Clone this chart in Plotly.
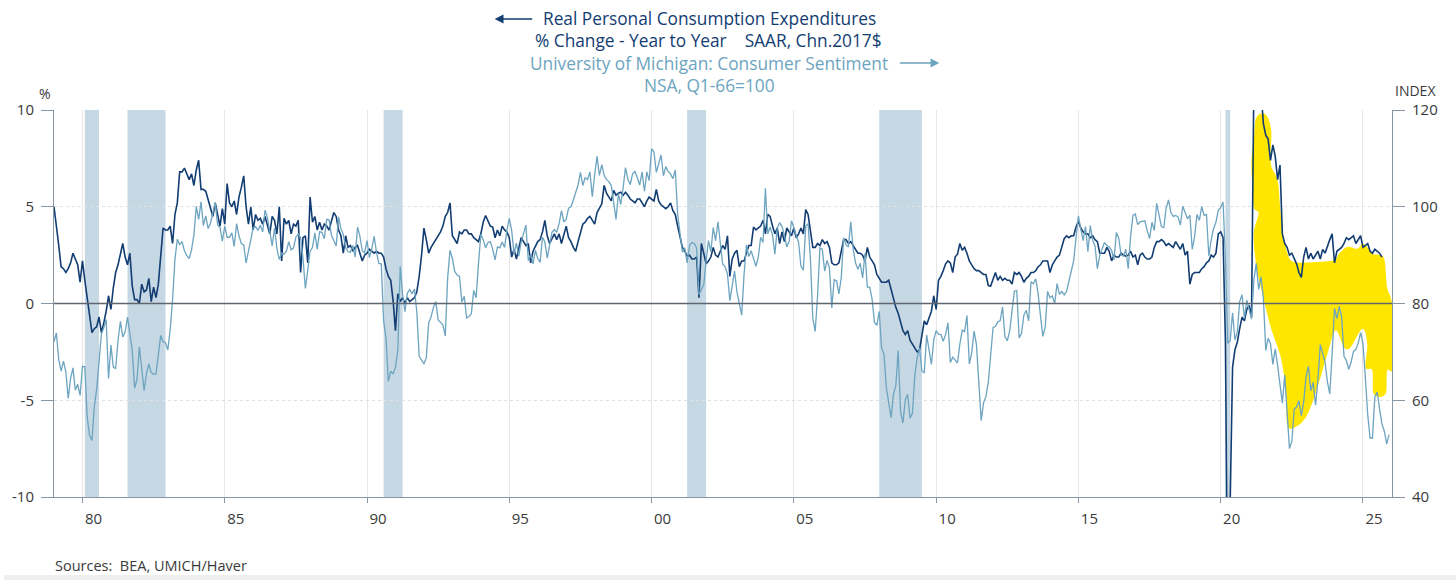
import plotly.graph_objects as go

# ---------------- data (monthly, starting Jan 1979) ----------------
start_year = 1979

# Real PCE, % change year to year (left axis)
pce_yoy = [
    5.0, 4.1, 3.0, 1.9, 1.8, 1.6, 1.8, 2.1, 2.6, 2.3, 2.0, 1.1,          # 1979
    2.2, 1.2, 0.2, -0.7, -1.5, -1.3, -1.2, -0.7, -1.5, -1.0, -0.4, 0.4,  # 1980
    -0.3, 0.8, 1.6, 2.0, 2.6, 3.1, 2.4, 2.0, 2.6, 0.9, 0.2, 0.2,         # 1981
    0.0, 1.0, 0.6, 0.7, 1.3, 0.1, 0.85, 0.3, 1.0, 2.5, 3.9, 3.8,         # 1982
    3.8, 4.0, 3.1, 4.6, 5.2, 6.8, 6.8, 7.0, 6.7, 6.4, 6.7, 6.1,          # 1983
    6.9, 7.4, 5.9, 5.9, 5.8, 5.4, 4.9, 4.5, 5.2, 4.6, 4.0, 4.9,          # 1984
    4.1, 6.2, 5.2, 5.0, 5.3, 4.6, 5.5, 6.0, 6.6, 5.0, 4.1, 5.0,          # 1985
    3.8, 4.6, 4.3, 4.4, 4.1, 4.5, 4.1, 3.6, 4.5, 4.3, 3.6, 5.0,          # 1986
    2.2, 4.4, 4.1, 4.3, 3.6, 4.1, 4.0, 4.3, 1.6, 3.4, 3.5, 2.1,          # 1987
    5.5, 4.2, 4.5, 3.8, 4.2, 3.8, 4.1, 4.0, 3.8, 4.3, 4.7, 4.5,          # 1988
    3.8, 3.5, 2.6, 3.5, 2.9, 3.0, 2.7, 2.9, 3.0, 2.6, 2.2, 2.5,          # 1989
    2.6, 2.8, 2.7, 2.6, 2.7, 2.6, 2.6, 2.4, 1.8, 1.4, 1.2, 0.15,         # 1990
    -1.4, 0.5, 0.1, 0.3, 0.0, 0.3, 0.1, 0.2, 0.3, 0.6, 1.4, 2.5,         # 1991
    3.9, 3.3, 2.6, 2.9, 3.1, 3.3, 3.5, 3.7, 4.0, 4.5, 4.7, 5.2,          # 1992
    3.5, 3.3, 3.1, 3.7, 3.6, 3.8, 3.8, 3.6, 3.6, 3.4, 3.3, 3.2,          # 1993
    3.6, 4.2, 4.55, 4.3, 4.0, 3.95, 3.4, 3.8, 3.5, 4.0, 3.8, 3.7,        # 1994
    3.4, 2.4, 2.8, 2.3, 2.9, 3.4, 3.2, 3.0, 3.1, 2.1, 2.7, 3.0,          # 1995
    3.2, 3.3, 3.7, 4.3, 3.5, 3.1, 3.4, 3.6, 3.3, 3.6, 3.1, 3.5,          # 1996
    4.0, 3.4, 3.2, 2.9, 2.7, 3.2, 3.6, 4.1, 4.2, 4.4, 4.5, 4.3,          # 1997
    4.1, 4.7, 4.9, 5.15, 6.1, 5.7, 5.5, 5.3, 5.85, 5.6, 5.7, 5.75,       # 1998
    5.6, 5.75, 5.6, 5.4, 5.3, 5.2, 5.4, 5.4, 5.2, 5.0, 5.3, 5.5,         # 1999
    5.4, 5.3, 5.9, 5.3, 5.1, 5.0, 4.9, 5.0, 5.2, 4.8, 4.6, 4.0,          # 2000
    3.5, 2.9, 2.7, 2.45, 2.5, 2.3, 2.3, 2.4, 0.3, 3.1, 2.6, 2.05,        # 2001
    2.2, 2.4, 2.9, 2.5, 2.4, 2.7, 3.0, 2.8, 3.5, 1.4, 2.3, 2.6,          # 2002
    2.75, 1.9, 2.2, 2.2, 2.6, 3.0, 3.0, 3.95, 3.8, 3.9, 4.0, 4.3,        # 2003
    3.6, 4.6, 4.5, 4.0, 3.6, 3.9, 3.1, 3.7, 3.2, 3.9, 3.7, 3.5,          # 2004
    3.9, 3.4, 3.6, 3.9, 3.6, 4.85, 4.6, 3.8, 2.9, 2.9, 3.1, 3.0,         # 2005
    3.3, 3.1, 3.2, 2.9, 2.1, 2.0, 2.0, 2.1, 2.75, 3.3, 3.3, 3.1,         # 2006
    3.2, 3.0, 2.75, 2.6, 2.6, 2.5, 2.2, 2.9, 2.4, 2.2, 2.0, 1.5,         # 2007
    1.3, 1.1, 1.1, 1.1, 1.2, 0.7, 0.15, -0.2, -0.5, -0.9, -1.4, -1.6,    # 2008
    -1.4, -1.9, -2.1, -2.3, -2.5, -2.4, -1.6, -0.9, -1.1, -0.8, -0.4, 0.4,  # 2009
    -0.3, 1.2, 1.4, 1.7, 2.05, 2.2, 2.1, 1.6, 2.4, 2.55, 3.1, 2.75,      # 2010
    2.9, 2.6, 2.2, 2.0, 1.8, 1.7, 1.7, 1.6, 1.5, 1.5, 0.93, 0.9,         # 2011
    1.2, 1.6, 1.2, 1.4, 1.2, 1.3, 1.2, 1.2, 1.0, 1.6, 1.5, 1.6,          # 2012
    1.4, 1.1, 1.3, 1.4, 1.6, 1.6, 1.7, 1.9, 2.0, 2.2, 2.2, 2.2,          # 2013
    1.6, 2.0, 2.2, 2.4, 2.5, 2.9, 3.35, 3.5, 3.4, 3.5, 3.5, 3.95,        # 2014
    4.25, 3.9, 3.7, 3.6, 3.6, 3.4, 3.5, 3.3, 3.2, 2.6, 2.6, 2.6,         # 2015
    2.9, 2.7, 2.2, 2.5, 2.4, 2.4, 2.6, 2.5, 2.45, 2.5, 2.7, 2.4,         # 2016
    2.5, 2.0, 2.5, 2.6, 2.4, 2.3, 2.3, 2.4, 2.9, 3.2, 3.2, 3.3,          # 2017
    3.2, 3.0, 3.1, 3.0, 2.9, 3.2, 3.0, 2.8, 3.1, 2.5, 2.7, 1.0,          # 2018
    1.5, 1.6, 1.6, 1.6, 1.8, 1.9, 2.1, 2.2, 2.5, 2.4, 2.6, 3.6,          # 2019
    3.7, 3.4, -2.0, -17.5, -10.3, -3.3, -2.4, -2.0, -1.3, -0.7, -0.9, -0.3,  # 2020
    -0.1, -0.7, 11.5, 27.0, 15.0, 11.0, 9.3, 8.7, 8.5, 7.4, 8.2, 7.6,    # 2021
    6.4, 7.15, 3.6, 3.1, 2.9, 2.5, 2.6, 2.3, 2.05, 1.6, 1.35, 2.4,       # 2022
    2.9, 2.3, 2.6, 2.3, 2.5, 2.7, 2.3, 2.8, 2.6, 3.0, 3.3, 3.6,          # 2023
    2.1, 2.7, 2.8, 2.9, 3.1, 3.4, 3.3, 3.4, 3.5, 3.1, 3.3, 3.5,          # 2024
    2.9, 3.0, 3.1, 2.7, 2.6, 2.8, 2.7, 2.6, 2.4,                         # 2025
]

# University of Michigan Consumer Sentiment, NSA, Q1-66=100 (right axis)
sentiment = [
    72.1, 73.9, 68.4, 66.0, 68.1, 65.8, 60.4, 64.5, 66.7, 62.1, 63.3, 61.0,        # 1979
    67.0, 66.9, 56.5, 52.7, 51.7, 58.7, 62.3, 67.3, 73.7, 75.0, 76.7, 64.5,        # 1980
    71.4, 66.9, 66.5, 72.4, 76.3, 73.1, 74.1, 77.2, 73.1, 70.3, 62.5, 64.3,        # 1981
    71.0, 66.5, 62.0, 65.5, 67.5, 65.7, 65.4, 65.4, 69.3, 73.4, 72.1, 71.9,        # 1982
    70.4, 74.6, 80.8, 89.1, 93.3, 92.2, 92.8, 90.9, 89.9, 89.3, 91.1, 94.2,        # 1983
    100.1, 97.4, 101.0, 96.1, 98.1, 95.5, 96.6, 99.1, 100.9, 96.3, 95.7, 92.9,     # 1984
    96.0, 93.7, 93.7, 94.6, 91.8, 96.5, 94.0, 92.4, 92.1, 88.4, 90.9, 93.9,        # 1985
    95.6, 95.9, 95.1, 96.2, 94.8, 99.3, 97.7, 94.9, 91.9, 95.6, 91.4, 89.1,        # 1986
    90.4, 90.2, 90.8, 92.8, 91.1, 91.5, 93.7, 94.4, 93.6, 89.3, 83.1, 86.8,        # 1987
    90.8, 91.6, 94.6, 91.2, 94.8, 94.7, 93.4, 97.4, 97.3, 94.1, 93.0, 91.9,        # 1988
    97.9, 95.4, 94.3, 91.5, 90.7, 90.6, 92.0, 89.6, 95.8, 93.9, 90.9, 90.5,        # 1989
    93.0, 89.5, 91.3, 93.9, 90.6, 88.3, 88.2, 76.4, 72.8, 63.9, 66.0, 65.5,        # 1990
    66.8, 70.4, 87.7, 81.8, 78.3, 82.1, 82.9, 82.0, 83.0, 78.3, 69.1, 68.2,        # 1991
    67.5, 68.8, 76.0, 77.2, 79.2, 80.4, 76.6, 76.1, 75.6, 73.3, 85.3, 91.0,        # 1992
    89.3, 86.6, 85.9, 85.6, 80.3, 81.5, 77.0, 77.3, 77.9, 82.7, 81.2, 88.2,        # 1993
    94.3, 93.2, 91.5, 92.6, 92.8, 91.2, 89.0, 91.7, 91.5, 92.7, 91.6, 95.1,        # 1994
    97.6, 95.1, 90.3, 92.5, 89.8, 92.7, 94.4, 96.2, 88.9, 90.2, 88.2, 91.0,        # 1995
    89.3, 88.5, 93.7, 92.7, 89.4, 92.4, 94.7, 95.3, 94.7, 96.5, 99.2, 96.9,        # 1996
    97.4, 99.7, 100.0, 101.4, 103.2, 104.5, 107.1, 104.4, 106.0, 105.6, 107.2, 102.1,  # 1997
    106.6, 110.4, 106.5, 108.7, 106.5, 105.6, 105.2, 104.4, 100.9, 97.4, 102.7, 100.5, # 1998
    103.9, 108.1, 105.7, 104.6, 106.8, 107.3, 106.0, 104.5, 107.2, 103.2, 107.2, 105.4, # 1999
    112.0, 111.3, 107.1, 109.2, 110.7, 106.4, 108.3, 107.3, 106.8, 105.8, 107.6, 98.4,  # 2000
    94.7, 90.6, 91.5, 88.4, 92.0, 92.6, 92.4, 91.5, 81.8, 82.7, 83.9, 88.8,        # 2001
    93.0, 90.7, 95.7, 93.0, 96.9, 92.4, 88.1, 87.6, 86.1, 80.6, 84.2, 86.7,        # 2002
    82.4, 79.9, 77.6, 86.0, 92.1, 89.7, 90.9, 89.3, 87.7, 89.6, 93.7, 92.6,        # 2003
    103.8, 94.4, 95.8, 94.2, 90.2, 95.6, 96.7, 95.9, 94.2, 91.7, 92.8, 97.1,       # 2004
    95.5, 94.1, 92.6, 87.7, 86.9, 96.0, 96.5, 89.1, 76.9, 74.2, 81.6, 91.5,        # 2005
    91.2, 86.7, 88.9, 87.4, 79.1, 84.9, 84.7, 82.0, 85.4, 93.6, 92.1, 91.7,        # 2006
    96.9, 91.3, 88.4, 87.1, 88.3, 85.3, 90.4, 83.4, 83.4, 80.9, 76.1, 75.5,        # 2007
    78.4, 70.8, 69.5, 62.6, 59.8, 56.4, 61.2, 63.0, 70.3, 57.6, 55.3, 60.1,        # 2008
    61.2, 56.3, 57.3, 65.1, 68.7, 70.8, 66.0, 65.7, 73.5, 70.6, 67.4, 72.5,        # 2009
    74.4, 73.6, 73.6, 72.2, 73.6, 76.0, 67.8, 68.9, 68.2, 67.7, 71.6, 74.5,        # 2010
    74.2, 77.5, 67.5, 69.8, 74.3, 71.5, 63.7, 55.8, 59.5, 60.8, 63.7, 69.9,        # 2011
    75.0, 75.3, 76.2, 76.4, 79.3, 73.2, 72.3, 74.3, 78.3, 82.6, 82.7, 72.9,        # 2012
    73.8, 77.6, 78.6, 76.4, 84.5, 84.1, 85.1, 82.1, 77.5, 73.2, 75.1, 82.5,        # 2013
    81.2, 81.6, 80.0, 84.1, 81.9, 82.5, 81.8, 82.5, 84.6, 86.9, 88.8, 93.6,        # 2014
    98.1, 95.4, 93.0, 95.9, 90.7, 96.1, 93.1, 91.9, 87.2, 90.0, 91.3, 92.6,        # 2015
    92.0, 91.7, 91.0, 89.0, 94.7, 93.5, 90.0, 89.8, 91.2, 87.2, 93.8, 98.2,        # 2016
    98.5, 96.3, 96.9, 97.0, 97.1, 95.1, 93.4, 96.8, 95.1, 100.7, 98.5, 95.9,       # 2017
    95.7, 99.7, 101.4, 98.8, 98.0, 98.2, 97.9, 96.2, 100.1, 98.6, 97.5, 98.3,      # 2018
    91.2, 93.8, 98.4, 97.2, 100.0, 98.2, 98.4, 89.8, 93.2, 95.5, 96.8, 99.3,       # 2019
    99.8, 101.0, 89.1, 71.8, 72.3, 78.1, 72.5, 74.1, 80.4, 81.8, 76.9, 80.7,       # 2020
    79.0, 76.8, 84.9, 88.3, 82.9, 85.5, 81.2, 70.3, 72.8, 71.7, 67.4, 70.6,        # 2021
    67.2, 62.8, 59.4, 65.2, 58.4, 50.0, 51.5, 58.2, 58.6, 59.9, 56.8, 59.7,        # 2022
    64.9, 67.0, 62.0, 63.7, 59.0, 64.2, 71.5, 69.4, 67.9, 63.8, 61.3, 69.7,        # 2023
    79.0, 76.9, 79.4, 77.2, 69.1, 68.2, 66.4, 67.9, 70.1, 70.5, 71.8, 74.0,        # 2024
    71.7, 64.7, 57.0, 52.2, 52.2, 60.7, 61.7, 58.2, 55.1, 53.6, 51.0, 52.9,        # 2025
]

# NBER recessions (start, end) as decimal years (month after peak .. month after trough)
recession_start = [1980 + 1/12, 1981 + 7/12, 1990 + 7/12, 2001 + 3/12, 2008.0, 2020 + 2/12]
recession_end = [1980 + 7/12, 1982 + 11/12, 1991 + 3/12, 2001 + 11/12, 2009 + 6/12, 2020 + 4/12]

x_tickvals = [1980, 1985, 1990, 1995, 2000, 2005, 2010, 2015, 2020, 2025]
x_ticktext = ["80", "85", "90", "95", "00", "05", "10", "15", "20", "25"]
left_ticks = [-10, -5, 0, 5, 10]
right_ticks = [40, 60, 80, 100, 120]

# hand-drawn yellow highlight outline (decimal year, left-axis value)
hl_x = [2021.24, 2021.47, 2021.67, 2021.78, 2021.76, 2022.00, 2022.09, 2022.17, 2022.35,
        2022.58, 2023.28, 2023.98, 2024.16, 2024.45, 2024.80, 2024.98, 2025.15, 2025.33,
        2025.62, 2025.76, 2025.85, 2025.97, 2026.06, 2026.06, 2025.85, 2025.79, 2025.38,
        2025.33, 2025.09, 2025.15, 2024.98, 2024.57, 2024.33, 2024.04, 2023.75, 2023.40,
        2023.05, 2022.70, 2022.35, 2022.29, 2022.11, 2021.76, 2021.41, 2021.24, 2021.16,
        2021.33, 2021.16, 2021.10, 2021.08, 2021.18]
hl_y = [9.57, 9.83, 9.57, 8.79, 7.24, 6.37, 4.99, 3.78, 2.58,
        2.14, 2.14, 2.23, 2.58, 2.92, 2.83, 3.09, 2.92, 2.58,
        2.49, 2.23, 0.84, 0.33, -0.53, -3.30, -3.47, -4.68, -4.68,
        -3.47, -3.30, -2.09, -1.31, -2.26, -2.26, -1.40, -2.61, -4.34,
        -5.72, -6.32, -6.32, -4.51, -2.78, -1.23, 0.84, 2.06, 3.61,
        4.65, 4.99, 6.37, 7.41, 8.79]

# ---------------- styling ----------------
NAVY = "#123d72"
LIGHT = "#6da4c0"
SHADE = "#c6d8e3"
YELLOW = "#ffe600"
AXIS = "#8795a5"
TXT = "#3a3a3a"
FONT = "Open Sans"

W, H = 1456, 580
L, R, T, B = 50, 64, 110, 83
PW, PH = W - L - R, H - T - B


def px_x(px):
    return (px - L) / PW


def px_y(py):
    return (H - B - py) / PH


x_pce = [start_year + i / 12 for i in range(len(pce_yoy))]
x_sent = [start_year + i / 12 for i in range(len(sentiment))]

fig = go.Figure()
fig.add_trace(go.Scatter(x=x_sent, y=sentiment, yaxis="y2", mode="lines",
                         line=dict(color=LIGHT, width=1.3), hoverinfo="skip", showlegend=False))
fig.add_trace(go.Scatter(x=x_pce, y=pce_yoy, mode="lines",
                         line=dict(color=NAVY, width=1.6), hoverinfo="skip", showlegend=False))

shapes = []
for s, e in zip(recession_start, recession_end):
    shapes.append(dict(type="rect", xref="x", yref="paper", x0=s, x1=e, y0=0, y1=1,
                       fillcolor=SHADE, line=dict(width=0), layer="below"))


# smooth closed path through the highlight outline (Catmull-Rom -> Bezier)
def smooth_path(xs, ys):
    n = len(xs)
    p = list(zip(xs, ys))
    d = "M {:.4f},{:.4f}".format(*p[0])
    for i in range(n):
        p0, p1, p2, p3 = p[i - 1], p[i], p[(i + 1) % n], p[(i + 2) % n]
        c1 = (p1[0] + (p2[0] - p0[0]) / 6, p1[1] + (p2[1] - p0[1]) / 6)
        c2 = (p2[0] - (p3[0] - p1[0]) / 6, p2[1] - (p3[1] - p1[1]) / 6)
        d += " C {:.4f},{:.4f} {:.4f},{:.4f} {:.4f},{:.4f}".format(*c1, *c2, *p2)
    return d + " Z"


shapes.append(dict(type="path", xref="x", yref="y", path=smooth_path(hl_x, hl_y),
                   fillcolor=YELLOW, line=dict(width=0), layer="between"))
shapes.append(dict(type="line", xref="paper", yref="y", x0=0, x1=1, y0=0, y1=0,
                   line=dict(color="#5f6670", width=1.3), layer="above"))
# light band at the very bottom of the image
shapes.append(dict(type="rect", xref="paper", yref="paper", x0=px_x(0), x1=px_x(W),
                   y0=px_y(H), y1=px_y(575), fillcolor="#efefef", line=dict(width=0), layer="below"))

TS = 17.3
annotations = [
    dict(text="Real Personal Consumption Expenditures", x=px_x(707), y=px_y(19),
         font=dict(color=NAVY, size=TS, family=FONT)),
    dict(text="% Change - Year to Year\u00a0\u00a0\u00a0\u00a0SAAR, Chn.2017$", x=px_x(706), y=px_y(40),
         font=dict(color=NAVY, size=TS, family=FONT)),
    dict(text="University of Michigan: Consumer Sentiment", x=px_x(706.5), y=px_y(63),
         font=dict(color=LIGHT, size=TS, family=FONT)),
    dict(text="NSA, Q1-66=100", x=px_x(707), y=px_y(85),
         font=dict(color=LIGHT, size=TS, family=FONT)),
    dict(text="%", x=px_x(41), y=px_y(93), font=dict(color=TXT, size=14, family=FONT)),
    dict(text="INDEX", x=px_x(1416), y=px_y(90), font=dict(color=TXT, size=14, family=FONT)),
    dict(text="Sources:\u00a0\u00a0BEA, UMICH/Haver", x=px_x(50), y=px_y(565), xanchor="left",
         font=dict(color=TXT, size=14.5, family=FONT)),
]
for a in annotations:
    a.update(xref="paper", yref="paper", showarrow=False, borderpad=0)
    a.setdefault("xanchor", "center")
    a["yanchor"] = "middle"

# arrows
annotations.append(dict(xref="paper", yref="paper", x=px_x(492), y=px_y(19), ax=39, ay=0,
                        text="", showarrow=True, arrowhead=2, arrowsize=1.1, arrowwidth=1.6,
                        arrowcolor=NAVY))
annotations.append(dict(xref="paper", yref="paper", x=px_x(938), y=px_y(63), ax=-41, ay=0,
                        text="", showarrow=True, arrowhead=2, arrowsize=1.1, arrowwidth=1.6,
                        arrowcolor=LIGHT))

tickfont = dict(color=TXT, size=15, family=FONT)

fig.update_layout(
    width=W, height=H, autosize=False,
    margin=dict(l=L, r=R, t=T, b=B, pad=0),
    paper_bgcolor="white", plot_bgcolor="white",
    font=dict(family=FONT, color=TXT),
    shapes=shapes, annotations=annotations, showlegend=False,
    xaxis=dict(range=[1979.0, 2026.02], tickvals=x_tickvals, ticktext=x_ticktext,
               ticks="outside", ticklen=5, tickcolor=AXIS, showline=True, linecolor=AXIS,
               linewidth=1, showgrid=True, gridcolor="#e6e6e6", gridwidth=1, zeroline=False,
               tickfont=tickfont, ticklabelshift=11, ticklabelstandoff=3, fixedrange=True),
    yaxis=dict(range=[-10, 10], tickvals=left_ticks, ticktext=[str(v) for v in left_ticks],
               ticks="outside", ticklen=12, tickcolor=AXIS, showline=True, linecolor=AXIS,
               linewidth=1, showgrid=True, gridcolor="#e0e0e0", griddash="dot", zeroline=False,
               tickfont=tickfont, ticklabelstandoff=4, fixedrange=True),
    yaxis2=dict(range=[40, 120], tickvals=right_ticks, ticktext=[str(v) for v in right_ticks],
                overlaying="y", side="right", ticks="outside", ticklen=12, tickcolor=AXIS,
                showline=True, linecolor=AXIS, linewidth=1, showgrid=False, zeroline=False,
                tickfont=tickfont, ticklabelstandoff=4, fixedrange=True),
)

fig.write_html("out.html")
